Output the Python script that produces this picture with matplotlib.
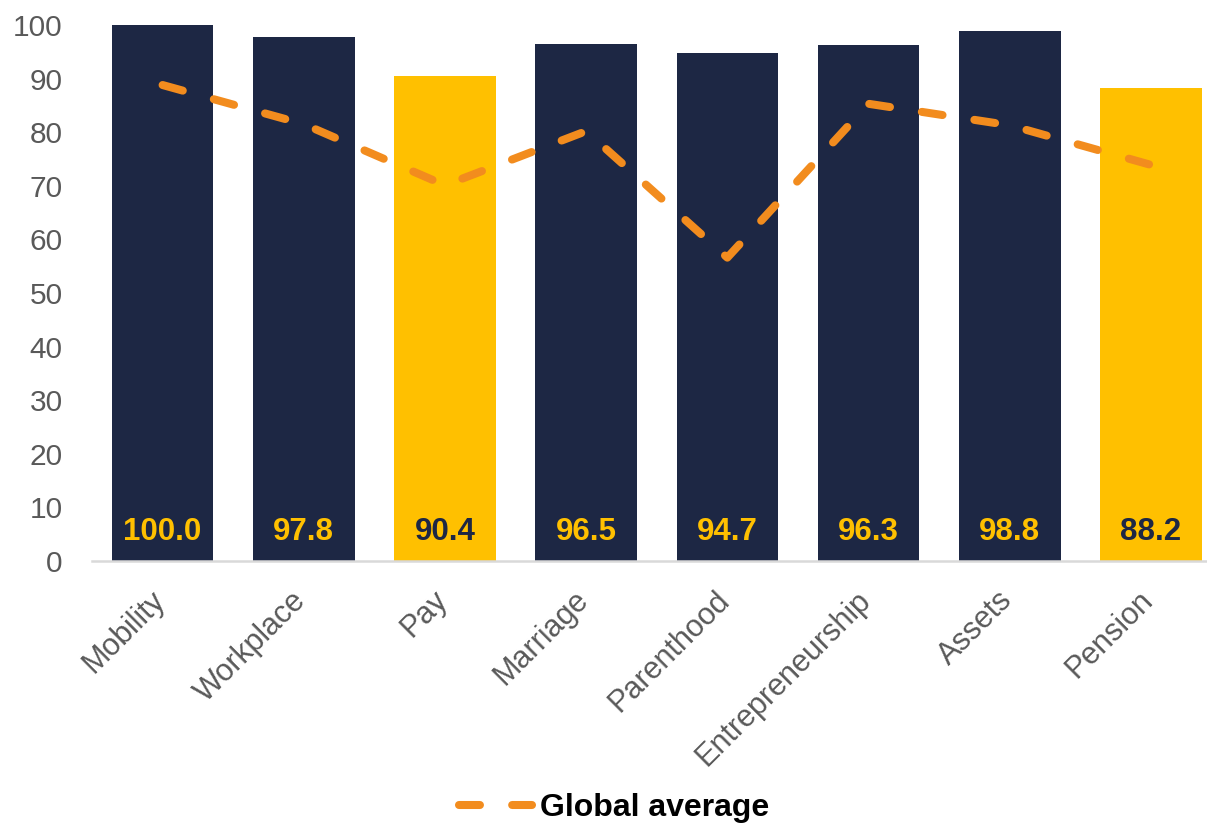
import matplotlib.pyplot as plt
import matplotlib.transforms as mtransforms
from matplotlib.lines import Line2D

# Scores by indicator, with the global average for comparison
indicators = ['Mobility', 'Workplace', 'Pay', 'Marriage', 'Parenthood',
              'Entrepreneurship', 'Assets', 'Pension']
scores = [100.0, 97.8, 90.4, 96.5, 94.7, 96.3, 98.8, 88.2]
global_avg = [88.8, 81.5, 70.1, 80.2, 56.6, 85.3, 81.3, 73.9]
highlighted = ['Pay', 'Pension']

NAVY = '#1d2744'
YELLOW = '#ffc000'
ORANGE = '#f28c1e'
GREY = '#595959'

plt.rcParams['font.family'] = ['Liberation Sans', 'DejaVu Sans']

W, H = 1207, 825
fig = plt.figure(figsize=(W / 100, H / 100), dpi=100)
ax = fig.add_axes([92 / W, 264 / H, 1129.5 / W, 536 / H])

x = list(range(len(indicators)))
bar_colors = [YELLOW if name in highlighted else NAVY for name in indicators]
ax.bar(x, scores, width=0.72, color=bar_colors, zorder=2)

for xi, name, val in zip(x, indicators, scores):
    ax.text(xi, 5.4, f'{val:.1f}', ha='center', va='center',
            fontsize=22.5, fontweight='bold',
            color=NAVY if name in highlighted else YELLOW, zorder=4)

line, = ax.plot(x, global_avg, color=ORANGE, lw=5.8, zorder=3,
                solid_capstyle='round', dash_capstyle='round',
                solid_joinstyle='round')
line.set_dashes((2.6, 4.0))

ax.set_xlim(-0.5, 7.5)
ax.set_ylim(0, 100)
ax.set_yticks(range(0, 101, 10))
ax.tick_params(axis='y', length=0, pad=21, labelsize=21.5, labelcolor=GREY)
ax.tick_params(axis='x', length=0, pad=8, labelsize=22, labelcolor=GREY)

ax.set_xticks(x)
ax.set_xticklabels(indicators, rotation=45, ha='right', va='center',
                   rotation_mode='anchor')
shift = mtransforms.ScaledTranslation(-1.5 / 72, -17 / 72, fig.dpi_scale_trans)
for lbl in ax.get_xticklabels():
    lbl.set_transform(lbl.get_transform() + shift)

for side in ['top', 'right', 'left']:
    ax.spines[side].set_visible(False)
ax.spines['bottom'].set_color('#d9d9d9')
ax.spines['bottom'].set_linewidth(1.8)

handle = Line2D([], [], color=ORANGE, lw=5.8, dash_capstyle='round',
                dashes=(2.6, 4.0))
fig.legend(handles=[handle], labels=['Global average'], loc='center',
           bbox_to_anchor=(614 / W, 1 - 808 / H), frameon=False,
           handlelength=2.3, handletextpad=0.25,
           prop={'size': 23, 'weight': 'bold'})

fig.savefig('out.png', dpi=100)
